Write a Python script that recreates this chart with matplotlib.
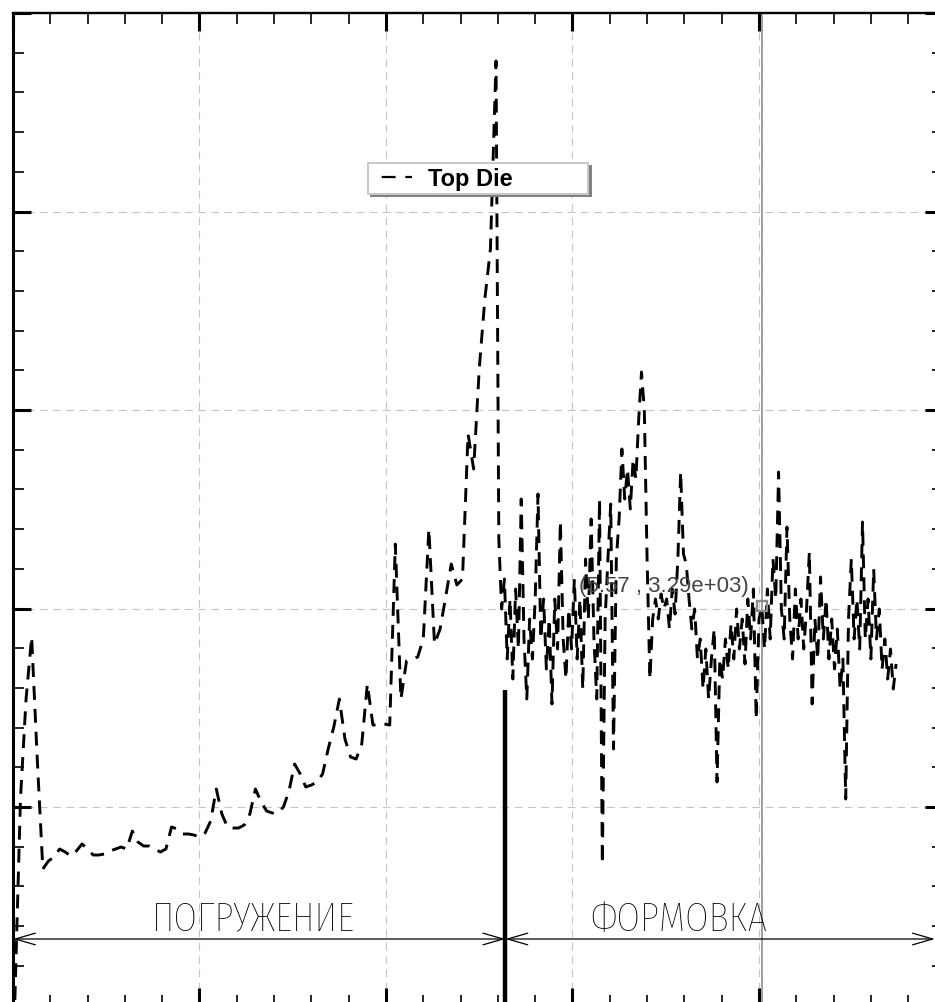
import numpy as np
import matplotlib
matplotlib.use("Agg")
import matplotlib.pyplot as plt
from matplotlib import font_manager as fm
from matplotlib.lines import Line2D
from matplotlib.patches import FancyArrowPatch

plt.rcParams["lines.scale_dashes"] = False

# ========================
# DATA (Top Die signal, two sampling rates)
# ========================
T1_START, T1_STEP = 4.772, 0.006
T2_START, T2_STEP = 5.291, 0.003

top_die_slow = [
    1320, 2325, 2825, 3135, 2525, 1975, 2015, 2035, 2075, 2060,
    2040, 2065, 2100, 2075, 2045, 2045, 2050, 2065, 2075, 2085,
    2075, 2165, 2110, 2090, 2090, 2075, 2060, 2075, 2185, 2175,
    2150, 2150, 2145, 2135, 2155, 2215, 2375, 2250, 2185, 2180,
    2180, 2195, 2250, 2375, 2310, 2265, 2255, 2255, 2285, 2365,
    2500, 2450, 2385, 2395, 2410, 2450, 2575, 2685, 2825, 2625,
    2535, 2525, 2600, 2900, 2695, 2695, 2700, 2695, 3600, 2825,
    3015, 3025, 3035, 3125, 3675, 3100, 3175, 3335, 3500, 3395,
    3425, 4150, 3975, 4475, 4825, 5075, 6015,
]

top_die_fast = [
    3625, 3275, 3425, 3025, 3325, 2925, 3375, 3075, 3825, 3125,
    2825, 3225, 3025, 3325, 3850, 3125, 3325, 2975, 3225, 2800,
    3325, 3075, 3715, 3125, 2925, 3275, 3075, 3425, 3025, 3325,
    2875, 3525, 3225, 3725, 3125, 2825, 3825, 2000, 3225, 3525,
    3800, 2575, 3525, 3725, 4075, 3825, 3975, 3775, 4025, 3925,
    4225, 4460, 4275, 3525, 2925, 3225, 3325, 3225, 3350, 3275,
    3325, 3175, 3375, 3250, 3525, 3960, 3550, 3500, 3325, 3175,
    3275, 3025, 3125, 2875, 3075, 2825, 3025, 3175, 2410, 3025,
    2925, 3125, 2975, 3200, 3025, 3275, 3075, 3225, 3000, 3325,
    3125, 3375, 2725, 3225, 3290, 3075, 3375, 3125, 3525, 3325,
    3960, 3275, 3125, 3685, 3225, 3025, 3375, 3125, 3325, 3075,
    3275, 3560, 2800, 3225, 3025, 3435, 3125, 3325, 3025, 3225,
    2975, 3175, 2875, 3025, 2325, 3225, 3525, 3125, 3325, 3075,
    3710, 3125, 3325, 3025, 3475, 3125, 3275, 2975, 3125, 2925,
    3075, 2875, 3000,
]

t = np.concatenate([T1_START + T1_STEP * np.arange(len(top_die_slow)),
                    T2_START + T2_STEP * np.arange(len(top_die_fast))])
force = np.array(top_die_slow + top_die_fast, dtype=float)

# phase boundary, dimension line and cursor
phase_start = 4.77
phase_split = 5.298
phase_end = 5.7587
dim_level = 1625
split_top = 2870
phase_names = ["ПОГРУЖЕНИЕ", "ФОРМОВКА"]
phase_label_x = [5.0273, 5.4842]
phase_label_y = 1672

cursor_t, cursor_f = 5.5732, 3290
cursor_text = "(5.57 , 3.29e+03)"

# axis ranges (no tick labels visible in the crop)
X_MIN, X_STEP = 4.77, 0.2
X_MAX = 5.76733
Y_MAX, Y_STEP = 6255.0, 992.5
Y_MIN = Y_MAX - 5 * Y_STEP

# ========================
# FONTS
# ========================
names = {f.name for f in fm.fontManager.ttflist}
label_font = next(c for c in ["Fira Sans Extra Condensed", "Oswald", "Roboto Condensed",
                              "PT Sans Narrow", "DejaVu Sans"] if c in names)
ui_font = next(c for c in ["Liberation Sans", "Arimo", "DejaVu Sans"] if c in names)

# ========================
# PLOT
# ========================
fig = plt.figure(figsize=(9.35, 10.03), dpi=100)
ax = fig.add_axes([13 / 935, (1003 - 1006.5) / 1003, 930 / 935, 992.5 / 1003])

ax.set_xticks(X_MIN + X_STEP * np.arange(6))
ax.set_xticks(X_MIN + X_STEP / 5 * np.arange(26), minor=True)
ax.set_yticks(Y_MAX - Y_STEP * np.arange(6))
ax.set_yticks(Y_MAX - Y_STEP / 5 * np.arange(26), minor=True)
ax.set_xlim(X_MIN, X_MAX)
ax.set_ylim(Y_MIN, Y_MAX)

ax.tick_params(which="both", direction="in", top=True, right=True,
               labelbottom=False, labelleft=False, colors="black")
ax.tick_params(which="major", length=13, width=2.2)
ax.tick_params(which="minor", length=8, width=1.2)
for side, lw in [("left", 2.2), ("right", 2.2), ("top", 1.7), ("bottom", 2.2)]:
    ax.spines[side].set_linewidth(lw)
    ax.spines[side].set_color("black")

ax.grid(True, which="major", color="#c4c4c4", linewidth=0.8,
        linestyle=(0, (5.5, 4)), zorder=0)
ax.set_axisbelow(True)

# cursor line
ax.axvline(cursor_t, color="#8e8e8e", linewidth=1.2, zorder=1.5)

# data
ax.plot(t, force, color="black", linewidth=2.1, linestyle=(0, (10, 6.5)),
        zorder=3, label="Top Die")

# cursor marker + readout
ax.plot([cursor_t], [cursor_f], marker="s", markersize=7, markerfacecolor="none",
        markeredgecolor="#8a8a8a", markeredgewidth=1.7, zorder=4)
ax.annotate(cursor_text, xy=(cursor_t, cursor_f), xytext=(-9.5, 10.5),
            textcoords="offset points", ha="right", va="baseline",
            fontsize=16, color="#454545", family=ui_font, zorder=5)

# phase boundary
ax.vlines(phase_split, Y_MIN, split_top, color="black", linewidth=3.2, zorder=4)

# dimension arrows
for x0, x1 in [(phase_start, phase_split), (phase_split, phase_end)]:
    arr = FancyArrowPatch((x0, dim_level), (x1, dim_level),
                          arrowstyle="<->,head_length=1.45,head_width=0.42",
                          mutation_scale=10, shrinkA=0, shrinkB=0,
                          color="black", linewidth=0.9, zorder=4)
    ax.add_patch(arr)

for name, lx in zip(phase_names, phase_label_x):
    ax.text(lx, phase_label_y, name, ha="center", va="baseline", fontsize=30,
            family=[label_font, "DejaVu Sans"], weight="light", color="#000000",
            zorder=5)

# legend
handle = Line2D([], [], color="black", linewidth=1.6, linestyle=(10, (10, 7)))
leg = ax.legend([handle], ["Top Die"], loc="upper left",
                bbox_to_anchor=(368 / 935, (1003 - 198) / 1003, 220 / 935, 34 / 1003),
                bbox_transform=fig.transFigure, mode="expand", borderaxespad=0,
                borderpad=0.16, handlelength=1.7, handletextpad=0.7,
                prop={"family": ui_font, "weight": "bold", "size": 17},
                fancybox=False, framealpha=1, edgecolor="#c8c8c8",
                shadow={"color": "#808080", "alpha": 1})
leg.get_frame().set_linewidth(1.4)
leg.set_zorder(6)

fig.savefig("out.png", dpi=100)
plt.close(fig)
